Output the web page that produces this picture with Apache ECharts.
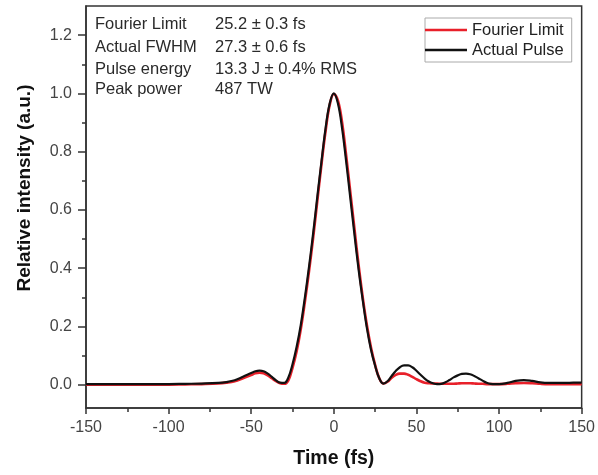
<!DOCTYPE html>
<html>
<head>
<meta charset="utf-8">
<script src="https://cdn.jsdelivr.net/npm/echarts@6/dist/echarts.min.js"></script>
<style>html,body{margin:0;padding:0;background:#fff}#c{width:598px;height:475px}</style>
</head>
<body>
<div id="c"></div>
<script>
// Time axis (fs)
const time = [-150,-140,-130,-120,-110,-100,-90,-80,-70,-65,-60,-55,
  -50,-47.5,-45,-42.5,-40,-37.5,-35,-32.5,-30,-27.5,-25,-22.5,-20,-17.5,-15,-12.5,-10,-7.5,-5,-2.5,
  0,2.5,5,7.5,10,12.5,15,17.5,20,22.5,25,27.5,30,32.5,35,37.5,40,42.5,45,47.5,50,52.5,55,57.5,60,62.5,
  65,67.5,70,72.5,75,77.5,80,82.5,85,87.5,90,92.5,95,97.5,100,105,110,115,120,125,130,135,140,145,150];

// Relative intensity, measured pulse
const actualPulse = [0.002,0.002,0.002,0.002,0.002,0.002,0.003,0.004,0.006,0.009,0.015,0.027,
  0.040,0.046,0.048,0.046,0.038,0.027,0.015,0.007,0.006,0.025,0.070,0.130,0.205,0.300,0.405,0.520,0.645,0.765,0.880,0.965,
  1.000,0.965,0.880,0.765,0.640,0.515,0.395,0.290,0.195,0.120,0.065,0.022,0.004,0.012,0.030,0.047,0.060,0.066,0.066,0.060,0.048,0.034,0.021,0.011,0.005,0.002,
  0.003,0.008,0.016,0.025,0.032,0.037,0.038,0.036,0.030,0.022,0.014,0.007,0.003,0.002,0.002,0.006,0.013,0.016,0.013,0.008,0.006,0.006,0.006,0.007,0.007];

// Relative intensity, Fourier-limited pulse
const fourierLimit = [0.000,0.000,0.000,0.000,0.000,0.000,0.001,0.002,0.004,0.007,0.012,0.022,
  0.033,0.039,0.041,0.039,0.032,0.022,0.012,0.005,0.003,0.015,0.058,0.115,0.190,0.285,0.390,0.505,0.630,0.755,0.870,0.960,
  0.998,0.975,0.900,0.785,0.660,0.535,0.410,0.300,0.205,0.128,0.068,0.022,0.004,0.010,0.024,0.034,0.038,0.038,0.034,0.027,0.019,0.012,0.007,0.005,0.004,0.004,
  0.003,0.003,0.003,0.003,0.004,0.005,0.005,0.005,0.004,0.003,0.003,0.002,0.002,0.002,0.002,0.003,0.005,0.006,0.005,0.003,0.002,0.002,0.002,0.002,0.002];

const seriesNames = ['Fourier Limit', 'Actual Pulse'];
const yMajorTicks = [0, 0.2, 0.4, 0.6, 0.8, 1.0, 1.2];
const yMinorTicks = [0.1, 0.3, 0.5, 0.7, 0.9, 1.1];

const infoLabels = ['Fourier Limit', 'Actual FWHM', 'Pulse energy', 'Peak power'];
const infoValues = ['25.2 \u00b1 0.3 fs', '27.3 \u00b1 0.6 fs', '13.3 J \u00b1 0.4% RMS', '487 TW'];
const infoRowY = [25, 48, 70, 90];

const FONT = '"Liberation Sans", Arial, sans-serif';

const chart = echarts.init(document.getElementById('c'), null, {renderer: 'canvas'});

const graphics = [];
infoLabels.forEach((t, i) => {
  graphics.push({type: 'text', left: 95, top: infoRowY[i] - 9,
    style: {text: t, font: '16.5px ' + FONT, fill: '#2a2a2a'}});
  graphics.push({type: 'text', left: 215, top: infoRowY[i] - 9,
    style: {text: infoValues[i], font: '16.5px ' + FONT, fill: '#2a2a2a'}});
});

chart.setOption({
  animation: false,
  backgroundColor: '#fff',
  grid: {left: 86, right: 14, top: 6, bottom: 67, show: true, borderColor: '#333', borderWidth: 1.5, backgroundColor: 'transparent'},
  legend: {
    data: seriesNames, orient: 'vertical', left: 425, top: 18,
    icon: 'rect', itemWidth: 42, itemHeight: 2.5, itemGap: 2,
    padding: [3, 8, 3, 0], borderColor: '#aaa', borderWidth: 1,
    textStyle: {fontFamily: FONT, fontSize: 16.5, color: '#222', lineHeight: 18}
  },
  graphic: graphics,
  xAxis: {
    type: 'value', min: -150, max: 150, interval: 50,
    name: 'Time (fs)', nameLocation: 'middle', nameGap: 41,
    nameTextStyle: {fontFamily: FONT, fontSize: 19.5, fontWeight: 'bold', color: '#111'},
    axisLine: {show: true, onZero: false, lineStyle: {color: '#333', width: 1.5}},
    axisTick: {show: true, inside: false, length: 6, lineStyle: {color: '#333', width: 1.5}},
    minorTick: {show: true, splitNumber: 2, length: 4, lineStyle: {color: '#333', width: 1.5}},
    axisLabel: {fontFamily: FONT, fontSize: 16, color: '#444', margin: 12},
    splitLine: {show: false}
  },
  yAxis: [{
    type: 'value', min: -0.08, max: 1.3, position: 'left',
    name: 'Relative intensity (a.u.)', nameLocation: 'middle', nameGap: 52,
    nameTextStyle: {fontFamily: FONT, fontSize: 19, fontWeight: 'bold', color: '#111', padding: [0, 0, 0, 38]},
    axisLine: {show: true, onZero: false, lineStyle: {color: '#333', width: 1.5}},
    axisTick: {show: true, inside: false, length: 8, customValues: yMajorTicks, lineStyle: {color: '#333', width: 1.5}},
    axisLabel: {fontFamily: FONT, fontSize: 16, color: '#444', margin: 14, customValues: yMajorTicks,
      formatter: v => v.toFixed(1)},
    splitLine: {show: false}
  }, {
    type: 'value', min: -0.08, max: 1.3, position: 'left', offset: 0,
    axisLine: {show: false, onZero: false},
    axisTick: {show: true, inside: false, length: 4, customValues: yMinorTicks, lineStyle: {color: '#333', width: 1.5}},
    axisLabel: {show: false},
    splitLine: {show: false}
  }],
  series: [{
    name: seriesNames[0], type: 'line', yAxisIndex: 0, showSymbol: false, symbol: 'none', smooth: 0.4,
    lineStyle: {color: '#e8202a', width: 2.6}, itemStyle: {color: '#e8202a'},
    data: time.map((t, i) => [t, fourierLimit[i]])
  }, {
    name: seriesNames[1], type: 'line', yAxisIndex: 0, showSymbol: false, symbol: 'none', smooth: 0.4,
    lineStyle: {color: '#111', width: 2.2}, itemStyle: {color: '#111'},
    data: time.map((t, i) => [t, actualPulse[i]])
  }]
});
</script>
</body>
</html>
